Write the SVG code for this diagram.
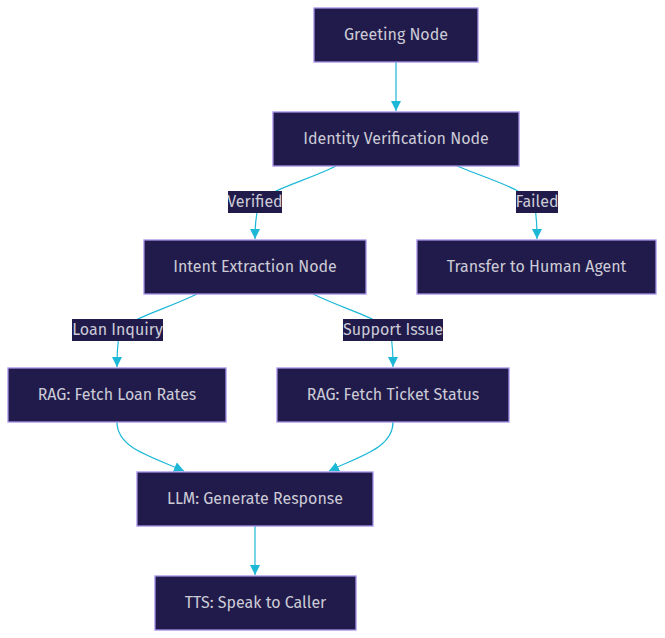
<svg xmlns="http://www.w3.org/2000/svg" width="665" height="638" viewBox="0 0 665 638">
<defs>
<style>
.node rect{fill:#201b4b;stroke:#a58fe6;stroke-width:1.3}
.node text,.lbl text{font-family:"Fira Sans",Lato,"Noto Sans",sans-serif;font-size:16px;fill:#cdcbd6;text-anchor:middle;dominant-baseline:central}
.edge{fill:none;stroke:#1cb8d6;stroke-width:1.2}
.lbl rect{fill:#201b4b}
</style>
<marker id="arr" viewBox="0 0 10 10" refX="10" refY="5" markerWidth="10" markerHeight="10" markerUnits="userSpaceOnUse" orient="auto">
<path d="M0,0 L10,5 L0,10 Z" fill="#1cb8d6"/>
</marker>
</defs>
<rect width="665" height="638" fill="#ffffff"/>
<g id="connectors">
<path class="edge" d="M396,62 L396,111" marker-end="url(#arr)"/>
<path class="edge" d="M336,166 C300,184 262,190 258,208 C255,220 255,228 255,239" marker-end="url(#arr)"/>
<path class="edge" d="M457,166 C490,180 530,190 535,208 C537,220 537,228 537,239" marker-end="url(#arr)"/>
<path class="edge" d="M197,294 C160,312 122,320 119,336 C117,348 117,356 117,367" marker-end="url(#arr)"/>
<path class="edge" d="M313,294 C350,312 388,320 391,336 C393,348 393,356 393,367" marker-end="url(#arr)"/>
<path class="edge" d="M117,422 C117,448 150,456 184,471" marker-end="url(#arr)"/>
<path class="edge" d="M393,422 C393,448 360,456 329,471" marker-end="url(#arr)"/>
<path class="edge" d="M255,526 L255,575" marker-end="url(#arr)"/>
<g class="lbl"><rect x="228" y="191" width="54" height="22"/><text x="255" y="201.5">Verified</text></g>
<g class="lbl"><rect x="516" y="191" width="42" height="22"/><text x="537" y="201.5">Failed</text></g>
<g class="lbl"><rect x="72" y="319" width="91" height="22"/><text x="117.5" y="329.5">Loan Inquiry</text></g>
<g class="lbl"><rect x="343" y="319" width="100" height="22"/><text x="393" y="329.5">Support Issue</text></g>
</g>
<g id="greeting" class="node"><rect x="314" y="8" width="164" height="54"/><text x="396" y="34">Greeting Node</text></g>
<g id="identity" class="node"><rect x="273" y="112" width="246" height="54"/><text x="396" y="138">Identity Verification Node</text></g>
<g id="intent" class="node"><rect x="144" y="240" width="222" height="54"/><text x="255" y="266">Intent Extraction Node</text></g>
<g id="transfer" class="node"><rect x="417" y="240" width="239" height="54"/><text x="536.5" y="266">Transfer to Human Agent</text></g>
<g id="loanrates" class="node"><rect x="8" y="368" width="218" height="54"/><text x="117" y="394">RAG: Fetch Loan Rates</text></g>
<g id="ticket" class="node"><rect x="277" y="368" width="232" height="54"/><text x="393" y="394">RAG: Fetch Ticket Status</text></g>
<g id="llm" class="node"><rect x="137" y="472" width="236" height="54"/><text x="255" y="498">LLM: Generate Response</text></g>
<g id="tts" class="node"><rect x="155" y="576" width="201" height="54"/><text x="255.5" y="602">TTS: Speak to Caller</text></g>
</svg>
